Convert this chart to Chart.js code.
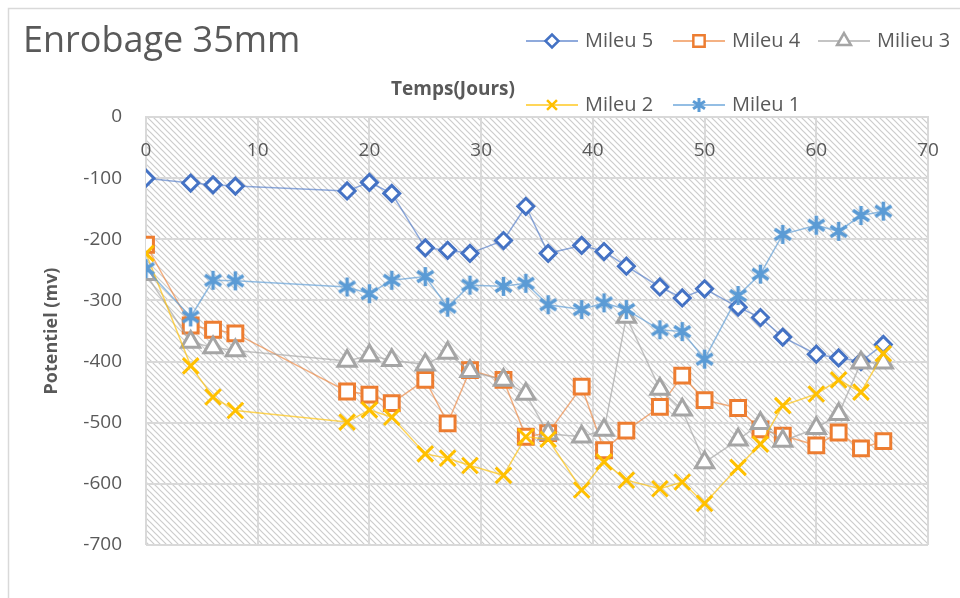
<!DOCTYPE html>
<html>
<head>
<meta charset="utf-8">
<title>Enrobage 35mm</title>
<script src="https://cdn.jsdelivr.net/npm/chart.js@4/dist/chart.umd.min.js"></script>
<style>
  body { margin: 0; background: #fff; }
  #chart { display: block; }
</style>
</head>
<body>
<canvas id="chart" width="960" height="598"></canvas>
<script>
// temps en jours
const days = [0, 4, 6, 8, 18, 20, 22, 25, 27, 29, 32, 34, 36, 39, 41, 43, 46, 48, 50, 53, 55, 57, 60, 62, 64, 66];

// potentiel (mv) par milieu
const mileu5 = [-100, -108, -111, -113, -121, -107, -125, -214, -218, -223, -202, -146, -223, -210, -220, -244, -278, -296, -281, -311, -328, -360, -388, -394, -400, -372];
const mileu4 = [-209, -341, -348, -354, -449, -454, -468, -430, -501, -414, -430, -523, -517, -441, -545, -513, -474, -423, -463, -476, -511, -521, -537, -516, -542, -530];
const mileu3 = [-257, -368, -377, -382, -399, -390, -398, -405, -386, -416, -430, -453, -518, -523, -512, -327, -445, -479, -565, -528, -501, -530, -509, -486, -402, -402];
const mileu2 = [-223, -407, -458, -480, -499, -479, -491, -551, -558, -570, -586, -523, -527, -610, -564, -594, -608, -597, -632, -573, -535, -472, -453, -430, -450, -387];
const mileu1 = [-248, -327, -267, -268, -278, -289, -267, -261, -311, -275, -277, -272, -307, -315, -304, -315, -348, -351, -396, -292, -257, -192, -177, -187, -161, -154];

const seriesNames = ['Mileu 5', 'Mileu 4', 'Milieu 3', 'Mileu 2', 'Mileu 1'];
const xMin = 0, xMax = 70, xStep = 10;
const yMin = -700, yMax = 0, yStep = 100;

const textColor = '#595959';
const gridColor = '#d9d9d9';
const font = '"Open Sans", "Liberation Sans", sans-serif';

// asterisque facon Excel (trait vertical + deux diagonales)
function makeStar(size, color, lw) {
    const c = document.createElement('canvas');
    c.width = size;
    c.height = size;
    const g = c.getContext('2d');
    const m = size / 2;
    const r = size / 2 - 1;
    g.strokeStyle = color;
    g.lineWidth = lw;
    g.beginPath();
    g.moveTo(m, m - r);
    g.lineTo(m, m + r);
    g.moveTo(m - r * 0.85, m - r * 0.55);
    g.lineTo(m + r * 0.85, m + r * 0.55);
    g.moveTo(m - r * 0.85, m + r * 0.55);
    g.lineTo(m + r * 0.85, m - r * 0.55);
    g.stroke();
    return c;
}

const styles = [
    { color: '#4472C4', line: 'rgba(68,114,196,0.6)', point: 'rectRot', radius: 8 },
    { color: '#ED7D31', line: 'rgba(237,125,49,0.6)', point: 'rect', radius: 10.5 },
    { color: '#A5A5A5', line: 'rgba(165,165,165,0.65)', point: 'triangle', radius: 10.5 },
    { color: '#FFC000', line: 'rgba(255,192,0,0.65)', point: 'crossRot', radius: 11 },
    { color: '#5B9BD5', line: 'rgba(91,155,213,0.65)', point: makeStar(21, '#5B9BD5', 3.5), radius: 10 }
];
const legendStar = makeStar(16, '#5B9BD5', 3);

const allSeries = [mileu5, mileu4, mileu3, mileu2, mileu1];

const datasets = allSeries.map((vals, i) => ({
    label: seriesNames[i],
    data: vals,
    borderColor: styles[i].line,
    borderWidth: 1.5,
    tension: 0,
    pointStyle: styles[i].point,
    pointRadius: styles[i].radius,
    pointBorderWidth: 3,
    pointBorderColor: styles[i].color,
    pointBackgroundColor: '#ffffff',
    order: 5 - i
}));

// fond hachure de la zone de tracé
function makeHatch() {
    const s = 6;
    const c = document.createElement('canvas');
    c.width = s;
    c.height = s;
    const g = c.getContext('2d');
    g.fillStyle = '#ffffff';
    g.fillRect(0, 0, s, s);
    g.strokeStyle = '#cccccc';
    g.lineWidth = 1.2;
    g.beginPath();
    g.moveTo(-1, -1); g.lineTo(s + 1, s + 1);
    g.moveTo(-1, s - 1); g.lineTo(1, s + 1);
    g.moveTo(s - 1, -1); g.lineTo(s + 1, 1);
    g.stroke();
    return c;
}

const decor = {
    id: 'decor',
    beforeDraw(chart) {
        const { ctx, chartArea } = chart;
        ctx.save();
        ctx.fillStyle = ctx.createPattern(makeHatch(), 'repeat');
        ctx.fillRect(chartArea.left, chartArea.top, chartArea.right - chartArea.left, chartArea.bottom - chartArea.top);
        ctx.strokeStyle = gridColor;
        ctx.lineWidth = 1.5;
        ctx.strokeRect(8.5, 8.5, 1000, 1000);
        ctx.restore();
    },
    afterDraw(chart) {
        const ctx = chart.ctx;
        ctx.save();
        ctx.fillStyle = textColor;
        ctx.textBaseline = 'middle';
        ctx.textAlign = 'left';
        ctx.font = '36px ' + font;
        ctx.fillText('Enrobage 35mm', 23, 42);

        ctx.textAlign = 'center';
        ctx.font = 'bold 19px ' + font;
        ctx.fillText('Temps(Jours)', 453, 90);

        // légende sur deux lignes
        const cols = [526, 673, 818];
        const rows = [41, 105];
        const cells = [[0, 0], [1, 0], [2, 0], [0, 1], [1, 1]];
        const legendRadius = [6.5, 8, 8, 7, 7];
        seriesNames.forEach((name, i) => {
            const x0 = cols[cells[i][0]];
            const y = rows[cells[i][1]];
            ctx.strokeStyle = styles[i].line;
            ctx.lineWidth = 2;
            ctx.beginPath();
            ctx.moveTo(x0, y);
            ctx.lineTo(x0 + 52, y);
            ctx.stroke();
            ctx.strokeStyle = styles[i].color;
            ctx.fillStyle = '#ffffff';
            ctx.lineWidth = 2.5;
            Chart.helpers.drawPoint(ctx, {
                pointStyle: i === 4 ? legendStar : styles[i].point,
                radius: legendRadius[i],
                borderWidth: 2.5,
                rotation: 0
            }, x0 + 26, y);
            ctx.fillStyle = textColor;
            ctx.textAlign = 'left';
            ctx.font = '20px ' + font;
            ctx.fillText(name, x0 + 59, y);
        });
        ctx.restore();
    }
};

new Chart(document.getElementById('chart'), {
    type: 'line',
    data: {
        labels: days,
        datasets: datasets
    },
    options: {
        responsive: false,
        maintainAspectRatio: false,
        animation: false,
        layout: {
            padding: { left: 0, top: 117, right: 32, bottom: 53 }
        },
        plugins: {
            legend: { display: false },
            title: { display: false },
            tooltip: { enabled: false }
        },
        scales: {
            x: {
                type: 'linear',
                position: { y: 0 },
                min: xMin,
                max: xMax,
                ticks: {
                    stepSize: xStep,
                    color: textColor,
                    font: { family: font, size: 19 },
                    padding: 22
                },
                grid: { color: gridColor, lineWidth: 2, drawTicks: false },
                border: { color: gridColor, width: 2 },
                afterFit(scale) {
                    scale.height = 0;
                    scale.paddingLeft = 0;
                    scale.paddingRight = 0;
                }
            },
            y: {
                min: yMin,
                max: yMax,
                ticks: {
                    stepSize: yStep,
                    color: textColor,
                    font: { family: font, size: 19 },
                    padding: 24
                },
                grid: { color: gridColor, lineWidth: 2, drawTicks: false },
                border: { display: false },
                title: {
                    display: true,
                    text: 'Potentiel (mv)',
                    color: textColor,
                    font: { family: font, size: 18, weight: 'bold' },
                    padding: { top: 41, bottom: 0 }
                },
                afterFit(scale) {
                    scale.width = 146;
                    scale.paddingTop = 0;
                    scale.paddingBottom = 0;
                }
            }
        }
    },
    plugins: [decor]
});
</script>
</body>
</html>
